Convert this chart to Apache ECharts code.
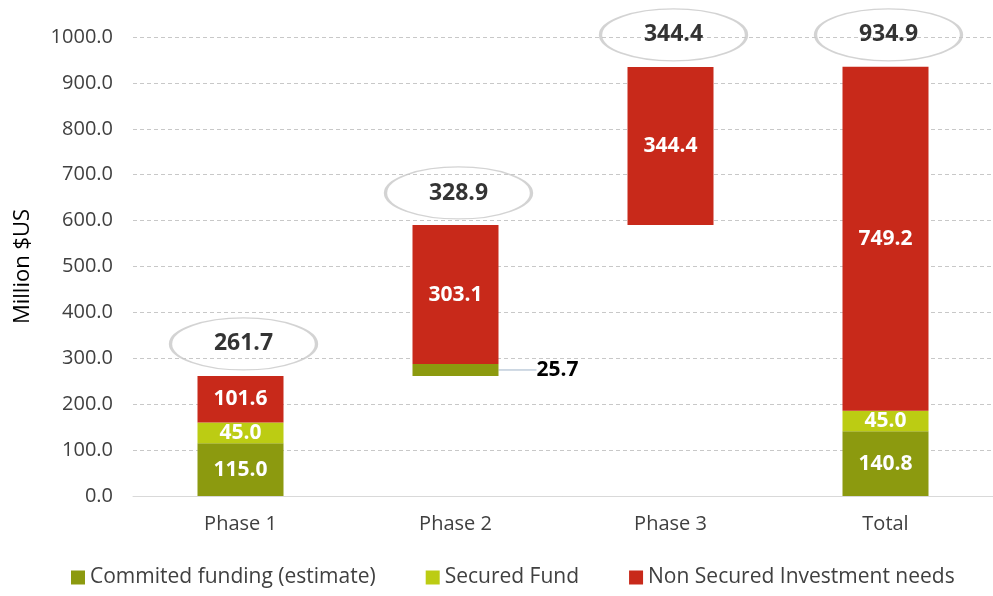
<!DOCTYPE html>
<html>
<head>
<meta charset="utf-8">
<script src="https://cdn.jsdelivr.net/npm/echarts@6/dist/echarts.min.js"></script>
<style>
  html, body { margin: 0; padding: 0; background: #fff; }
  #chart { width: 993px; height: 596px; }
</style>
</head>
<body>
<div id="chart"></div>
<script>
var categories = ['Phase 1', 'Phase 2', 'Phase 3', 'Total'];
var baseValues = [0, 261.7, 590.5, 0];           // invisible waterfall offset
var commited = [115.0, 25.7, '-', 140.8];
var secured = [45.0, '-', '-', 45.0];
var nonSecured = [101.6, 303.1, 344.4, 749.2];
var stepTotals = [261.7, 328.9, 344.4, 934.9];    // values in the ellipses
var yTicks = { min: 0, max: 1000, interval: 100 };

var font = 'Open Sans';

// top of each column, where the ellipse sits
var tops = categories.map(function (c, i) {
    var s = 0;
    [baseValues, commited, secured, nonSecured].forEach(function (arr) {
        if (arr[i] !== '-') s += arr[i];
    });
    return s;
});

var chart = echarts.init(document.getElementById('chart'));

function barLabel(p) {
    return (+p.value).toFixed(1);
}

var whiteLabel = {
    show: true,
    position: 'inside',
    color: '#fff',
    fontSize: 21,
    fontWeight: 'bold',
    formatter: barLabel
};

var option = {
    animation: false,
    textStyle: { fontFamily: font },
    grid: { left: 133, top: 37, width: 868, height: 459, containLabel: false },
    legend: {
        bottom: 3,
        left: 66,
        itemWidth: 14,
        itemHeight: 14,
        itemGap: 50,
        icon: 'rect',
        textStyle: { fontFamily: font, fontSize: 21, color: '#404040' },
        data: ['Commited funding (estimate)', 'Secured Fund', 'Non Secured Investment needs']
    },
    xAxis: {
        type: 'category',
        data: categories,
        axisLine: { show: true, lineStyle: { color: '#d9d9d9', width: 1 } },
        axisTick: { show: false },
        axisLabel: { fontSize: 20, color: '#404040', margin: 18 }
    },
    yAxis: {
        type: 'value',
        min: yTicks.min,
        max: yTicks.max,
        interval: yTicks.interval,
        name: 'Million $US',
        nameLocation: 'middle',
        nameGap: 99,
        nameTextStyle: { fontSize: 22, color: '#000' },
        axisLabel: {
            fontSize: 20, color: '#404040', margin: 20,
            formatter: function (v) { return v.toFixed(1); }
        },
        splitLine: { lineStyle: { type: [4, 3], color: '#c8c8c8', width: 1 } }
    },
    series: [
        {
            name: 'base',
            type: 'bar',
            stack: 'w',
            barWidth: 86,
            silent: true,
            itemStyle: { color: 'rgba(0,0,0,0)' },
            data: baseValues
        },
        {
            name: 'Commited funding (estimate)',
            type: 'bar',
            stack: 'w',
            barWidth: 86,
            itemStyle: { color: '#8c9a0f' },
            label: whiteLabel,
            data: commited.map(function (v, i) {
                if (i === 1) {
                    return {
                        value: v,
                        label: { position: 'right', color: '#000', distance: 38 },
                        labelLine: { show: true, lineStyle: { color: '#9fb3c8', width: 1 } }
                    };
                }
                return v;
            }),
            labelLayout: function (p) {
                if (p.dataIndex === 1) {
                    return { dx: 0 };
                }
            }
        },
        {
            name: 'Secured Fund',
            type: 'bar',
            stack: 'w',
            barWidth: 86,
            itemStyle: { color: '#bccc13' },
            label: whiteLabel,
            data: secured
        },
        {
            name: 'Non Secured Investment needs',
            type: 'bar',
            stack: 'w',
            barWidth: 86,
            itemStyle: { color: '#c8291a' },
            label: whiteLabel,
            data: nonSecured
        },
        {
            name: 'steps',
            type: 'scatter',
            silent: true,
            symbol: 'circle',
            symbolSize: [146, 52],
            symbolOffset: [3, -32],
            itemStyle: { color: 'rgba(255,255,255,0)', borderColor: '#c8c8c8', borderWidth: 2 },
            label: {
                show: true,
                position: 'inside',
                color: '#000',
                fontSize: 23,
                fontWeight: 'bold',
                formatter: function (p) { return stepTotals[p.dataIndex].toFixed(1); }
            },
            z: 5,
            data: tops
        }
    ]
};

chart.setOption(option);
</script>
</body>
</html>
